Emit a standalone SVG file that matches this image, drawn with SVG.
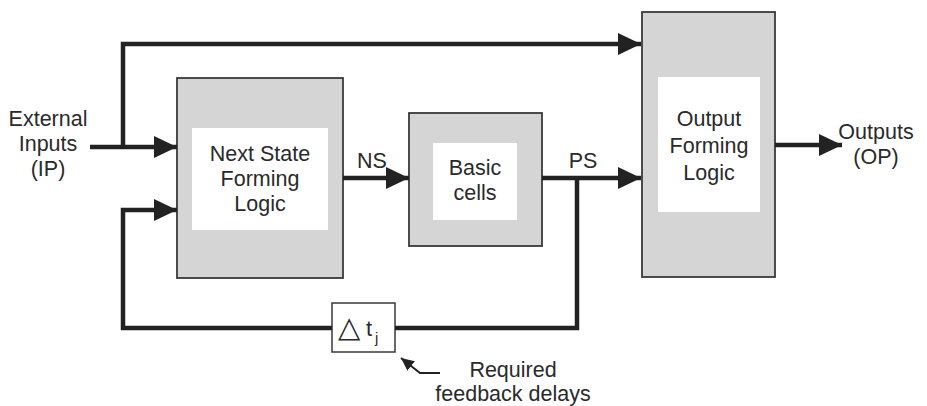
<svg xmlns="http://www.w3.org/2000/svg" width="927" height="406" viewBox="0 0 927 406">
<style>
.outer{fill:#d5d5d5;stroke:#3a3a3a;stroke-width:1.8}
.inner{fill:#ffffff;stroke:none}
.t{font-family:"Liberation Sans",Arial,sans-serif;font-size:21.5px;fill:#2a2a2a;text-anchor:middle}
.s{font-family:"Liberation Sans",Arial,sans-serif;fill:#2a2a2a}
.w{fill:none;stroke:#222;stroke-width:4.5;stroke-linejoin:miter}
</style>
<defs>
<marker id="ah" markerUnits="userSpaceOnUse" markerWidth="24" markerHeight="22" refX="23" refY="11" orient="auto">
<path d="M0,0 L23,11 L0,22 Z" fill="#222"/>
</marker>
<marker id="sa" markerUnits="userSpaceOnUse" markerWidth="14" markerHeight="12" refX="13" refY="6" orient="auto">
<path d="M0,0 L13,6 L0,12 Z" fill="#222"/>
</marker>
</defs>
<rect width="927" height="406" fill="#fff"/>
<g id="next-state">
<rect class="outer" x="177" y="78" width="166" height="200"/>
<rect class="inner" x="192" y="128" width="136" height="102"/>
<text class="t" x="260" y="161">Next State</text>
<text class="t" x="260" y="186">Forming</text>
<text class="t" x="260" y="211">Logic</text>
</g>
<g id="basic-cells">
<rect class="outer" x="409" y="113" width="133" height="133"/>
<rect class="inner" x="433" y="143" width="84" height="77"/>
<text class="t" x="475" y="175">Basic</text>
<text class="t" x="475" y="200">cells</text>
</g>
<g id="output-logic">
<rect class="outer" x="642" y="12" width="133" height="265"/>
<rect class="inner" x="658" y="77" width="102" height="135"/>
<text class="t" x="709" y="126">Output</text>
<text class="t" x="709" y="153">Forming</text>
<text class="t" x="709" y="180">Logic</text>
</g>
<g id="delay">
<rect x="332" y="303" width="63" height="49" fill="#fff" stroke="#3a3a3a" stroke-width="1.5"/>
<text class="s" x="338" y="337" font-size="29">△</text>
<text class="s" x="366" y="336" font-size="22">t</text>
<text class="s" x="375" y="343" font-size="15">j</text>
</g>
<g id="labels">
<text class="t" x="48" y="126">External</text>
<text class="t" x="48" y="151">Inputs</text>
<text class="t" x="48" y="176">(IP)</text>
<text class="t" x="876" y="139">Outputs</text>
<text class="t" x="876" y="164">(OP)</text>
<text class="t" x="372" y="168">NS</text>
<text class="t" x="583" y="168">PS</text>
<text class="t" x="513" y="377">Required</text>
<text class="t" x="513" y="401">feedback delays</text>
</g>
<g id="connectors">
<path class="w" d="M90,147 L177,147" marker-end="url(#ah)"/>
<path class="w" d="M123,147 L123,44 L641,44" marker-end="url(#ah)"/>
<path class="w" d="M343,178 L409,178" marker-end="url(#ah)"/>
<path class="w" d="M542,178 L641,178" marker-end="url(#ah)"/>
<path class="w" d="M775,145 L842,145" marker-end="url(#ah)"/>
<path class="w" d="M577,178 L577,328 L395,328"/>
<path class="w" d="M332,328 L123,328 L123,210 L177,210" marker-end="url(#ah)"/>
<path d="M440,373 L420,373 L401,358" fill="none" stroke="#222" stroke-width="2" marker-end="url(#sa)"/>
</g>
</svg>
